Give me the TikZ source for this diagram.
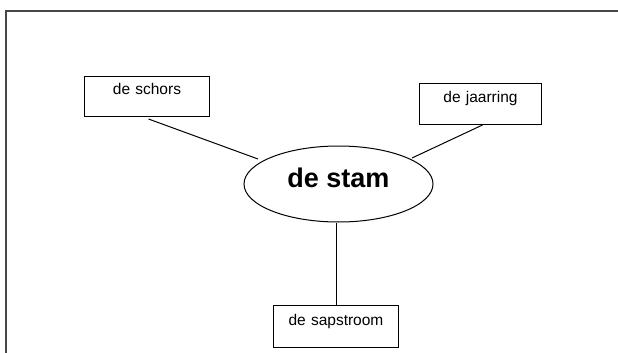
\documentclass[tikz,border=0pt]{standalone}
\usepackage{fontspec}
\setmainfont{Liberation Sans}
\usetikzlibrary{shapes.geometric}
\begin{document}
\begin{tikzpicture}[x=1pt,y=-1pt,
  line width=1pt,
  labelbox/.style={draw=black,rectangle,inner sep=0pt,font=\fontsize{15.5}{18}\selectfont,
    text height=18pt,text depth=22pt,anchor=north west},
  framestyle/.style={draw=black!72,line width=1.5pt}]
\useasboundingbox (0,0) rectangle (618,353);
\fill[white] (0,0) rectangle (618,353);
\draw[framestyle] (6,353) -- (6,11) -- (618,11);
\node[labelbox,minimum width=125pt,text width=125pt,align=center,text height=18pt,text depth=22pt] (schors) at (84,76) {de schors};
\node[labelbox,minimum width=122pt,text width=122pt,align=center,text height=19pt,text depth=22pt] (jaar) at (419,83) {de jaarring};
\node[labelbox,minimum width=125pt,text width=125pt,align=center,text height=20pt,text depth=22pt] (sap) at (273,305) {de sapstroom};
\node[draw=black,ellipse,inner sep=0pt,minimum width=189pt,minimum height=76pt,
  font=\fontsize{27}{30}\selectfont\bfseries,text height=19.3pt,text depth=13pt] (stam) at (338.5,184) {de stam};
\coordinate (e1) at (258,159);
\coordinate (e2) at (412,158);
\draw ([xshift=1.5pt,yshift=-2pt]schors.south) -- (e1);
\draw ([xshift=2pt]jaar.south) -- (e2);
\draw (stam.south -| sap.north) -- (sap.north);
\end{tikzpicture}
\end{document}
